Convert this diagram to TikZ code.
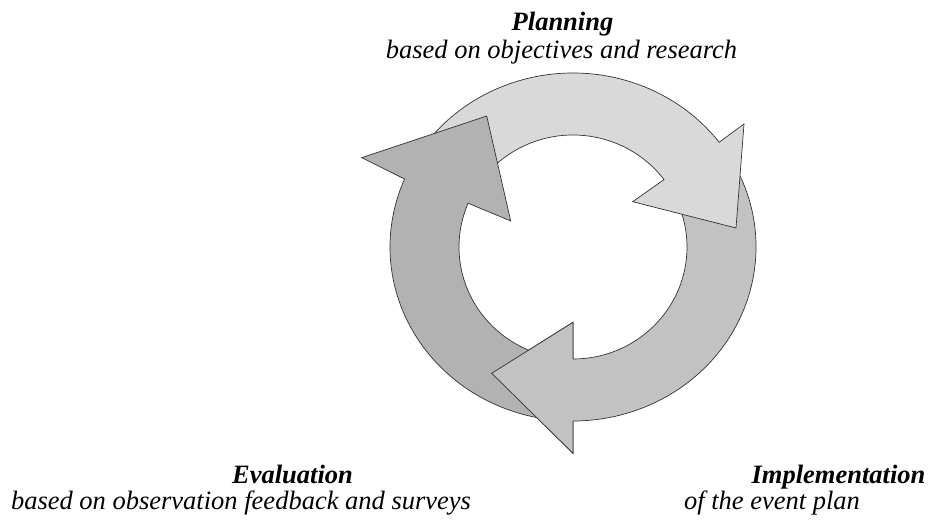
\documentclass[tikz,border=0pt]{standalone}
\usepackage{fontspec}
\setmainfont{Liberation Serif}
\definecolor{cyclight}{HTML}{D9D9D9}
\definecolor{cycmid}{HTML}{C2C2C2}
\definecolor{cycdark}{HTML}{B2B2B2}
\begin{document}
\begin{tikzpicture}[x=1pt,y=1pt,
  edge/.style={draw=black!80, line width=0.7pt, line join=miter},
  title/.style={anchor=base, inner sep=0pt, font=\fontsize{26.5}{27}\selectfont\bfseries\itshape},
  subtitle/.style={anchor=base, inner sep=0pt, font=\fontsize{26.5}{27}\selectfont\itshape}]
\useasboundingbox (0,0) rectangle (928,519);

% labels of the three phases
\node[title] (plan) at (562.5,488) {Planning};
\node[subtitle] (plansub) at (561.5,460.5) {based on objectives and research};
\node[title] (eval) at (292.5,35.5) {Evaluation};
\node[subtitle] (evalsub) at (241,10) {based on observation feedback and surveys};
\node[title] (impl) at (838.5,35.5) {Implementation};
\node[subtitle] (implsub) at (772,10) {of the event plan};

% the cycle of three curved arrows (outer ellipse 183 x 174, inner 114 x 112)
\begin{scope}[shift={(573,272)}]
  % arrow heads
  \coordinate (Lo) at (171,123);
  \coordinate (Lt) at (163,19);
  \coordinate (Li) at (59.7,45.3);
  \coordinate (Mo) at (0,-206.3);
  \coordinate (Mt) at (-81.3,-126.3);
  \coordinate (Mi) at (0,-75.3);
  \coordinate (Do) at (-211.3,89.3);
  \coordinate (Dt) at (-86.3,131);
  \coordinate (Di) at (-62.3,26);

  % implementation arrow (right side, pointing left at the bottom)
  \draw[edge, fill=cycmid]
    (30:114pt and 112pt) -- (30:183pt and 174pt)
    arc[start angle=30, end angle=-90, x radius=183, y radius=174]
    -- (Mo) -- (Mt) -- (Mi) -- (-90:114pt and 112pt)
    arc[start angle=-90, end angle=30, x radius=114, y radius=112] -- cycle;

  % planning arrow (top, pointing down on the right)
  \draw[edge, fill=cyclight]
    (145:114pt and 112pt) -- (145:183pt and 174pt)
    arc[start angle=145, end angle=37, x radius=183, y radius=174]
    -- (Lo) -- (Lt) -- (Li) -- (37:114pt and 112pt)
    arc[start angle=37, end angle=145, x radius=114, y radius=112] -- cycle;

  % evaluation arrow (left side, pointing up at the top left)
  \draw[edge, fill=cycdark]
    (262:114pt and 112pt) -- (262:183pt and 174pt)
    arc[start angle=262, end angle=157, x radius=183, y radius=174]
    -- (Do) -- (Dt) -- (Di) -- (157:114pt and 112pt)
    arc[start angle=157, end angle=262, x radius=114, y radius=112] -- cycle;

  % head of the implementation arrow lies over the tail of the evaluation arrow
  \fill[cycmid] (Mo) -- (Mt) -- (Mi) -- cycle;
  \draw[edge] (-90:183pt and 174pt) -- (Mo) -- (Mt) -- (Mi) -- (-90:114pt and 112pt);
\end{scope}
\end{tikzpicture}
\end{document}
